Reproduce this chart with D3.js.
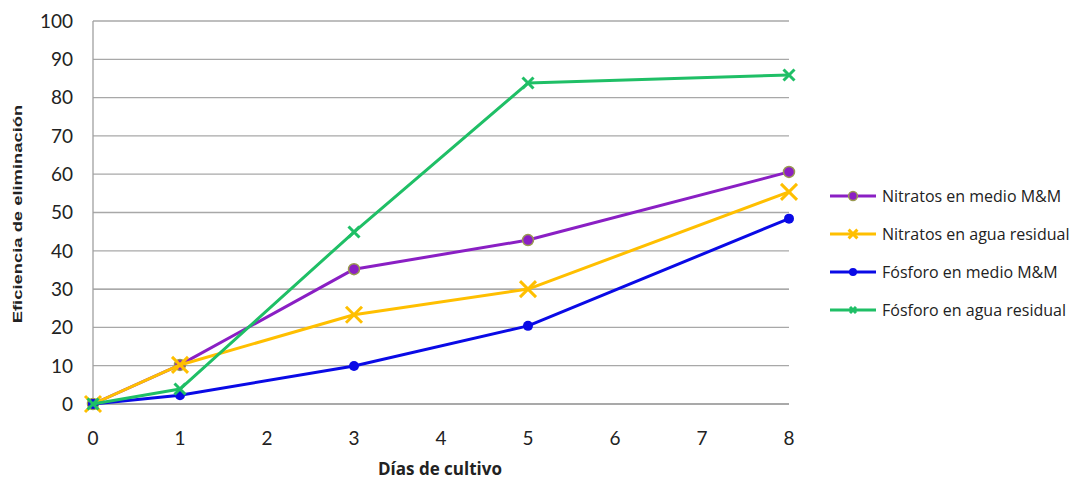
<!DOCTYPE html>
<html><head><meta charset="utf-8">
<script src="https://cdn.jsdelivr.net/npm/d3@7"></script>
<style>body{margin:0;background:#fff}svg{display:block}</style>
</head><body>
<svg id="c" width="1073" height="480"></svg>
<script>
const days = [0, 1, 3, 5, 8];
const xTicks = [0, 1, 2, 3, 4, 5, 6, 7, 8];
const yTicks = [0, 10, 20, 30, 40, 50, 60, 70, 80, 90, 100];
const seriesNames = ["Nitratos en medio M&M", "Nitratos en agua residual", "Fósforo en medio M&M", "Fósforo en agua residual"];
const nitratosMM = [0, 10.2, 35.2, 42.8, 60.6];
const nitratosAgua = [0, 10.2, 23.3, 30.0, 55.4];
const fosforoMM = [0, 2.3, 9.9, 20.4, 48.4];
const fosforoAgua = [0, 3.9, 44.9, 83.8, 85.9];
const seriesValues = [nitratosMM, nitratosAgua, fosforoMM, fosforoAgua];

const styles = [
  {color: "#8a1fc4", marker: "circle", r: 5.5, stroke: "#9a9a50"},
  {color: "#ffbf00", marker: "x", size: 8},
  {color: "#0a0ae6", marker: "dot", r: 5},
  {color: "#1fbf66", marker: "x", size: 5.5}
];

const svg = d3.select("#c");
const m = {l: 93, r: 789, t: 21, b: 404};
const x = d3.scaleLinear().domain([0, 8]).range([m.l, m.r]);
const y = d3.scaleLinear().domain([0, 100]).range([m.b, m.t]);
const font = "Lato, 'Open Sans', sans-serif";
const font2 = "'Open Sans', sans-serif";

// gridlines
svg.append("g").selectAll("line").data(yTicks).join("line")
  .attr("x1", m.l).attr("x2", m.r)
  .attr("y1", d => y(d)).attr("y2", d => y(d))
  .attr("stroke", d => (d === 0 || d === 30) ? "#8c8c8c" : "#a8a8a8").attr("stroke-width", 1.3);
// left axis line
svg.append("line").attr("x1", m.l).attr("x2", m.l).attr("y1", m.t).attr("y2", m.b)
  .attr("stroke", "#a0a0a0").attr("stroke-width", 1.3);

// y tick labels
svg.append("g").selectAll("text").data(yTicks).join("text")
  .attr("x", 73).attr("y", d => y(d)).attr("dy", "0.36em")
  .attr("text-anchor", "end").attr("font-family", font).attr("font-size", 19).attr("fill", "#222")
  .text(d => d);
// x tick labels
svg.append("g").selectAll("text").data(xTicks).join("text")
  .attr("x", d => x(d)).attr("y", 445)
  .attr("text-anchor", "middle").attr("font-family", font).attr("font-size", 19).attr("fill", "#222")
  .text(d => d);

// axis titles
svg.append("text").attr("x", 440).attr("y", 475).attr("text-anchor", "middle")
  .attr("font-family", font2).attr("font-weight", "bold").attr("font-size", 17).attr("fill", "#222")
  .text("Días de cultivo");
svg.append("text").attr("transform", "translate(22,214) rotate(-90) scale(1.15,0.85)").attr("text-anchor", "middle")
  .attr("font-family", "'Liberation Sans', Arial, sans-serif").attr("font-weight", "bold").attr("font-size", 16).attr("fill", "#222")
  .text("Eficiencia de eliminación");

function drawMarker(g, st, cx, cy, scale) {
  const s = scale || 1;
  if (st.marker === "circle") {
    g.append("circle").attr("cx", cx).attr("cy", cy).attr("r", st.r * s)
      .attr("fill", st.color).attr("stroke", st.stroke).attr("stroke-width", 1.5);
  } else if (st.marker === "dot") {
    g.append("circle").attr("cx", cx).attr("cy", cy).attr("r", st.r * s).attr("fill", st.color);
  } else {
    const k = st.size * s;
    g.append("path").attr("d", `M${cx-k},${cy-k}L${cx+k},${cy+k}M${cx-k},${cy+k}L${cx+k},${cy-k}`)
      .attr("stroke", st.color).attr("stroke-width", 3).attr("fill", "none");
  }
}

const line = d3.line().x(d => x(d[0])).y(d => y(d[1]));
seriesValues.forEach((vals, i) => {
  const st = styles[i];
  const pts = days.map((d, j) => [d, vals[j]]);
  const g = svg.append("g");
  g.append("path").attr("d", line(pts)).attr("fill", "none")
    .attr("stroke", st.color).attr("stroke-width", 3).attr("stroke-linejoin", "round");
  pts.forEach(p => drawMarker(g, st, x(p[0]), y(p[1])));
});

// legend
const legY = [196, 234, 272, 310];
seriesNames.forEach((name, i) => {
  const st = styles[i];
  const g = svg.append("g");
  g.append("line").attr("x1", 830).attr("x2", 876).attr("y1", legY[i]).attr("y2", legY[i])
    .attr("stroke", st.color).attr("stroke-width", 3);
  drawMarker(g, st, 853, legY[i], st.marker === "x" ? 0.55 : 0.8);
  g.append("text").attr("x", 882).attr("y", legY[i]).attr("dy", "0.36em")
    .attr("font-family", font2).attr("font-size", 16).attr("fill", "#222").text(name);
});
</script>
</body></html>
